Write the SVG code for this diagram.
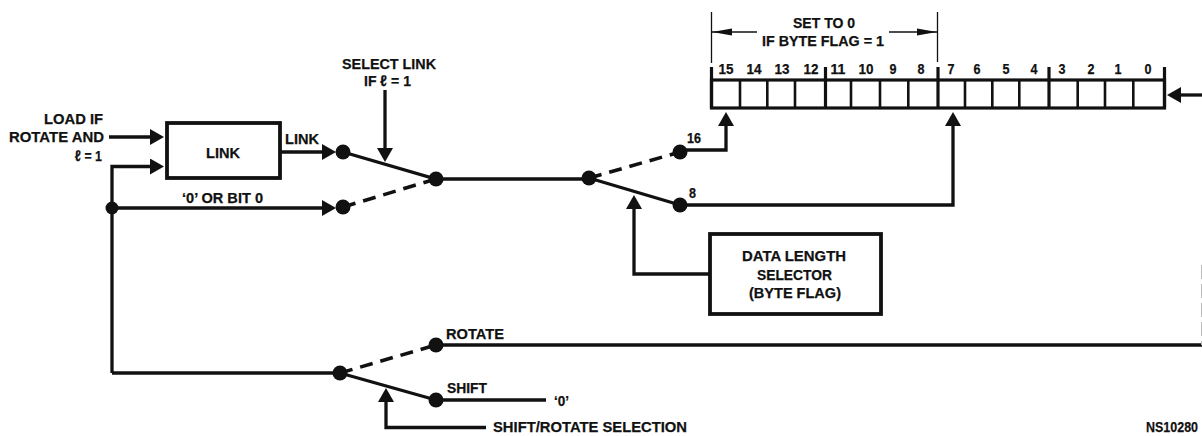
<svg xmlns="http://www.w3.org/2000/svg" width="1202" height="436" viewBox="0 0 1202 436">
<defs>
<style>
text{font-family:"Liberation Sans","DejaVu Sans",sans-serif;font-weight:700;font-size:15.5px;fill:#111;stroke:#111;stroke-width:.25}
.num{text-anchor:middle}
.w{fill:none;stroke:#111;stroke-width:3.3}
.box{fill:#fff;stroke:#111;stroke-width:3.8}
.d{fill:none;stroke:#111;stroke-width:3.6;stroke-dasharray:13 8}
.t{fill:none;stroke:#111;stroke-width:1.3}
.a{marker-end:url(#h)}
.s{marker-end:url(#sm)}
.dot{fill:#111}
.reg{fill:none;stroke:#111;stroke-width:3.2}
.cell{stroke:#111;stroke-width:2.6}
.tick{stroke:#111;stroke-width:3.2}
</style>
<marker id="h" markerUnits="userSpaceOnUse" markerWidth="15" markerHeight="16" refX="10" refY="8" orient="auto"><path d="M0 0L14 8L0 16Z" fill="#111"/></marker>
<marker id="sm" markerUnits="userSpaceOnUse" markerWidth="22" markerHeight="10" refX="20" refY="5" orient="auto"><path d="M0 1.5L20 5L0 8.5Z" fill="#111"/></marker>
</defs>
<rect width="1202" height="436" fill="#fff"/>
<g id="connectors">
<path class="w a" d="M109 137H160"/>
<path class="w a" d="M112 373V166.500H160"/>
<path class="w a" d="M112 208H332"/>
<path class="w a" d="M280 152H332"/>
<path class="w" d="M343 152L436 179H589"/>
<path class="d" d="M343 207L436 179"/>
<path class="w a" d="M385 90V158"/>
<path class="d" d="M589 178L680 152"/>
<path class="w" d="M589 178L680 205"/>
<path class="w a" d="M680 150H726V116"/>
<path class="w a" d="M680 205H953V116"/>
<path class="w a" d="M710 274H634V199"/>
<path class="w" d="M112 373H340"/>
<path class="d" d="M340 373L436 345"/>
<path class="w" d="M340 373L436 400"/>
<path class="w" d="M436 345H1202"/>
<path class="w" d="M436 400H546"/>
<path class="w a" d="M486 427.500H386V392"/>
<path class="w a" d="M1202 95H1171"/>
<path d="M1201.500 265V345" stroke="#bbb" stroke-width="1" stroke-dasharray="14 5" fill="none"/>
<path class="t s" d="M757 32H712"/>
<path class="t s" d="M889 32H937"/>
<path class="t" d="M711.500 12V63M937.500 12V62"/>
<circle class="dot" cx="112" cy="208" r="6.500"/>
<circle class="dot" cx="343" cy="152" r="7.500"/>
<circle class="dot" cx="343" cy="207" r="7.500"/>
<circle class="dot" cx="436" cy="179" r="7.500"/>
<circle class="dot" cx="589" cy="178" r="7.500"/>
<circle class="dot" cx="680" cy="152" r="7.500"/>
<circle class="dot" cx="680" cy="205" r="7.500"/>
<circle class="dot" cx="340" cy="373" r="7.500"/>
<circle class="dot" cx="436" cy="345" r="7.500"/>
<circle class="dot" cx="436" cy="400" r="7.500"/>
</g>
<g id="register">
<rect class="reg" x="711.500" y="80" width="453" height="28"/>
<path class="cell" d="M740 80V108M767.300 80V108M795 80V108M851 80V108M880 80V108M908.300 80V108M965 80V108M992.300 80V108M1019.300 80V108M1077.700 80V108M1105 80V108M1133.300 80V108"/>
<path class="tick" d="M711.500 67V108M825.500 67V108M938 67V108M1049 67V108M1164.500 67V108"/>
<text class="num" x="726" y="74" textLength="15" lengthAdjust="spacingAndGlyphs">15</text><text class="num" x="754" y="74" textLength="15" lengthAdjust="spacingAndGlyphs">14</text><text class="num" x="782" y="74" textLength="15" lengthAdjust="spacingAndGlyphs">13</text><text class="num" x="811" y="74" textLength="15" lengthAdjust="spacingAndGlyphs">12</text><text class="num" x="838" y="74" textLength="15" lengthAdjust="spacingAndGlyphs">11</text><text class="num" x="866" y="74" textLength="15" lengthAdjust="spacingAndGlyphs">10</text><text class="num" x="893" y="74" textLength="7" lengthAdjust="spacingAndGlyphs">9</text><text class="num" x="921" y="74" textLength="7" lengthAdjust="spacingAndGlyphs">8</text><text class="num" x="951" y="74" textLength="7" lengthAdjust="spacingAndGlyphs">7</text><text class="num" x="977" y="74" textLength="7" lengthAdjust="spacingAndGlyphs">6</text><text class="num" x="1006" y="74" textLength="7" lengthAdjust="spacingAndGlyphs">5</text><text class="num" x="1034" y="74" textLength="7" lengthAdjust="spacingAndGlyphs">4</text><text class="num" x="1062" y="74" textLength="7" lengthAdjust="spacingAndGlyphs">3</text><text class="num" x="1091" y="74" textLength="7" lengthAdjust="spacingAndGlyphs">2</text><text class="num" x="1118" y="74" textLength="7" lengthAdjust="spacingAndGlyphs">1</text><text class="num" x="1148" y="74" textLength="7" lengthAdjust="spacingAndGlyphs">0</text>
</g>
<g id="byte-label">
<text x="793" y="28" textLength="62" lengthAdjust="spacingAndGlyphs">SET TO 0</text>
<text x="762" y="46" textLength="122" lengthAdjust="spacingAndGlyphs">IF BYTE FLAG = 1</text>
</g>
<g id="link">
<rect class="box" x="167" y="123" width="113" height="55"/>
<text x="206" y="158" textLength="34" lengthAdjust="spacingAndGlyphs">LINK</text>
</g>
<g id="selector">
<rect class="box" x="710" y="234" width="171" height="80"/>
<text x="742" y="261" textLength="104" lengthAdjust="spacingAndGlyphs">DATA LENGTH</text>
<text x="757" y="280" textLength="75" lengthAdjust="spacingAndGlyphs">SELECTOR</text>
<text x="749" y="298" textLength="92" lengthAdjust="spacingAndGlyphs">(BYTE FLAG)</text>
</g>
<g id="labels">
<text x="44" y="124" textLength="59" lengthAdjust="spacingAndGlyphs">LOAD IF</text>
<text x="9" y="142" textLength="95" lengthAdjust="spacingAndGlyphs">ROTATE AND</text>
<text x="75" y="161" textLength="27" lengthAdjust="spacingAndGlyphs">ℓ = 1</text>
<text x="285" y="144" textLength="34" lengthAdjust="spacingAndGlyphs">LINK</text>
<text x="182" y="203" textLength="81" lengthAdjust="spacingAndGlyphs">‘0’ OR BIT 0</text>
<text x="342" y="69" textLength="94" lengthAdjust="spacingAndGlyphs">SELECT LINK</text>
<text x="364" y="86" textLength="47" lengthAdjust="spacingAndGlyphs">IF ℓ = 1</text>
<text x="687" y="143" textLength="14" lengthAdjust="spacingAndGlyphs">16</text>
<text x="689" y="198" textLength="7" lengthAdjust="spacingAndGlyphs">8</text>
<text x="446" y="339" textLength="58" lengthAdjust="spacingAndGlyphs">ROTATE</text>
<text x="447" y="393" textLength="40" lengthAdjust="spacingAndGlyphs">SHIFT</text>
<text x="554" y="405.500" textLength="15" lengthAdjust="spacingAndGlyphs">‘0’</text>
<text x="493" y="432" textLength="194" lengthAdjust="spacingAndGlyphs">SHIFT/ROTATE SELECTION</text>
<text x="1146" y="432" textLength="52" lengthAdjust="spacingAndGlyphs">NS10280</text>
</g>
</svg>
